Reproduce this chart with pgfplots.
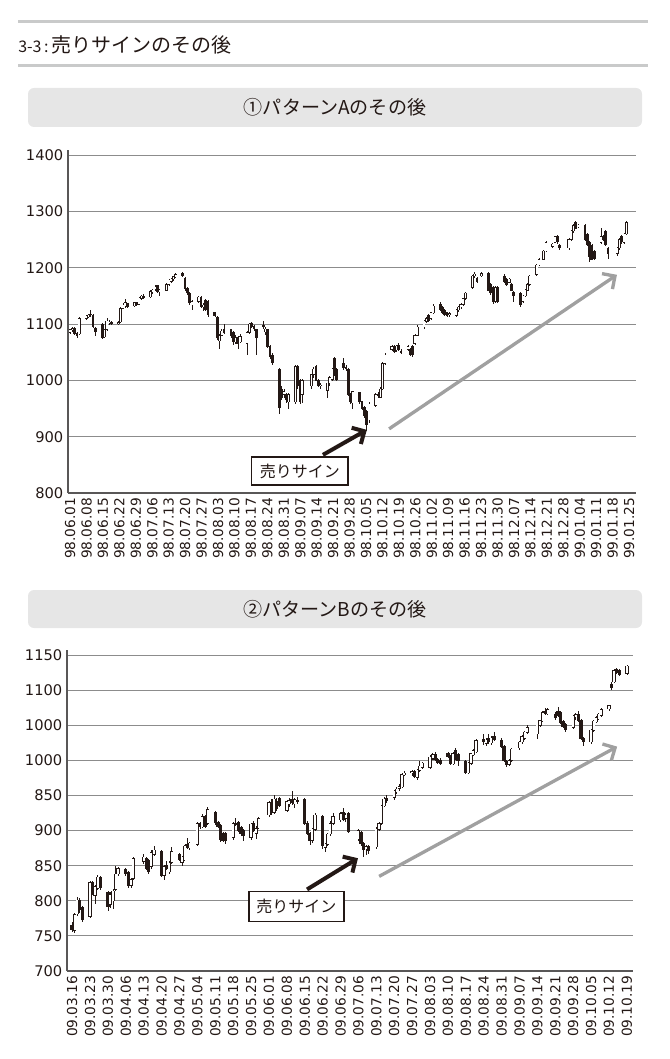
\documentclass[border=0pt]{standalone}
\usepackage{fontspec}
\setmainfont{DejaVu Sans}
\newfontfamily\jp{Noto Sans CJK JP}
\usepackage{pgfplots}
\usepackage{pgfplotstable}
\pgfplotsset{compat=1.18}
\usetikzlibrary{arrows.meta}
\definecolor{axisgray}{HTML}{595757}
\definecolor{gridgray}{HTML}{8C8C8C}
\definecolor{rulegray}{HTML}{C9CACA}
\definecolor{boxgray}{HTML}{E6E6E6}
\definecolor{arrowgray}{HTML}{A0A0A0}
\definecolor{ink}{HTML}{231815}

\pgfplotstableread{
x o h l c
0 1085 1092 1082 1090
1 1090 1095 1086 1092
2 1093 1095 1080 1083
3 1083 1086 1075 1080
4 1082 1112 1080 1110
7 1110 1116 1108 1114
8 1113 1118 1110 1116
9 1118 1125 1112 1117
10 1116 1118 1093 1095
11 1093 1095 1078 1086
14 1100 1102 1073 1076
15 1077 1092 1075 1090
16 1090 1110 1088 1105
17 1102 1108 1098 1104
18 1104 1106 1098 1100
21 1100 1106 1098 1103
22 1104 1130 1102 1128
23 1128 1138 1126 1134
24 1132 1145 1128 1138
25 1136 1138 1128 1131
28 1132 1140 1130 1138
29 1138 1140 1132 1134
30 1135 1148 1133 1146
31 1145 1152 1142 1150
32 1149 1153 1145 1148
35 1148 1160 1146 1158
36 1157 1163 1154 1160
37 1162 1170 1158 1166
38 1168 1170 1155 1158
39 1158 1162 1150 1160
42 1160 1172 1158 1170
43 1170 1180 1167 1178
44 1176 1182 1172 1180
45 1180 1186 1177 1184
46 1184 1190 1182 1188
49 1190 1192 1183 1185
50 1182 1184 1158 1162
51 1164 1166 1152 1155
52 1155 1157 1134 1137
53 1134 1142 1125 1140
56 1140 1150 1138 1148
57 1148 1150 1128 1130
58 1130 1138 1124 1134
59 1142 1144 1124 1126
60 1140 1142 1112 1116
63 1120 1122 1112 1115
64 1112 1114 1072 1075
65 1070 1082 1055 1080
66 1080 1092 1078 1088
67 1090 1100 1083 1085
70 1090 1092 1075 1080
71 1085 1087 1062 1068
72 1068 1080 1065 1076
73 1076 1078 1055 1065
74 1068 1082 1066 1078
77 1065 1088 1045 1085
78 1085 1102 1083 1100
79 1102 1104 1093 1096
80 1096 1099 1088 1092
81 1090 1092 1045 1075
84 1098 1105 1092 1096
85 1086 1094 1080 1091
86 1090 1092 1058 1060
87 1060 1062 1038 1042
88 1045 1048 1028 1032
91 1020 1022 940 952
92 985 990 965 970
93 975 985 968 980
94 976 978 960 965
95 962 978 950 975
98 962 1028 958 1025
99 1025 1028 985 990
100 1000 1002 958 962
101 975 1002 960 1000
105 990 1012 985 1010
106 1010 1024 1005 1020
107 1025 1028 998 1000
108 1000 1002 988 990
109 990 995 984 992
112 982 996 968 995
113 995 1008 990 1005
114 1002 1022 998 1020
115 1040 1042 1008 1010
116 1020 1022 998 1002
119 1030 1040 1018 1022
120 1024 1028 1016 1020
121 1020 1022 972 975
122 975 978 958 962
123 960 982 950 980
126 978 980 958 962
127 962 964 948 950
128 952 954 933 937
129 945 947 910 922
130 930 962 925 958
133 955 977 952 975
134 975 980 968 972
135 970 988 968 985
136 985 1032 983 1030
137 1030 1048 1028 1045
140 1055 1062 1052 1060
141 1060 1062 1048 1050
142 1054 1063 1050 1061
143 1062 1066 1052 1055
144 1052 1056 1046 1050
147 1055 1062 1052 1060
148 1056 1058 1043 1046
149 1060 1062 1042 1045
150 1065 1082 1062 1080
151 1080 1098 1078 1095
154 1095 1107 1092 1105
155 1105 1112 1102 1110
156 1116 1118 1103 1106
157 1110 1122 1108 1120
158 1120 1135 1118 1132
161 1135 1140 1123 1125
162 1130 1132 1118 1120
163 1125 1127 1114 1116
164 1120 1122 1113 1115
165 1116 1121 1113 1119
168 1115 1127 1112 1125
169 1125 1132 1122 1130
170 1130 1137 1127 1135
171 1135 1147 1132 1145
172 1145 1157 1143 1155
175 1165 1187 1162 1185
176 1185 1192 1182 1189
177 1182 1184 1172 1175
179 1185 1192 1183 1190
182 1190 1192 1158 1160
183 1170 1172 1152 1155
184 1165 1167 1135 1140
185 1140 1167 1138 1165
186 1165 1167 1138 1140
189 1185 1188 1173 1175
190 1180 1182 1168 1170
191 1174 1182 1172 1180
192 1170 1172 1158 1160
193 1156 1158 1140 1150
196 1155 1157 1130 1135
197 1140 1152 1138 1150
198 1150 1162 1148 1160
199 1160 1172 1158 1170
200 1170 1187 1168 1185
203 1188 1207 1186 1205
204 1205 1217 1203 1215
206 1215 1232 1213 1230
207 1230 1247 1228 1245
210 1238 1244 1235 1242
211 1245 1257 1243 1255
212 1256 1258 1243 1246
213 1240 1242 1232 1236
217 1235 1252 1232 1250
218 1250 1267 1248 1265
219 1265 1278 1262 1275
220 1280 1283 1268 1270
221 1272 1278 1270 1276
224 1276 1278 1248 1250
225 1260 1262 1238 1240
226 1245 1247 1210 1220
227 1240 1242 1213 1215
228 1230 1232 1213 1216
231 1245 1270 1242 1255
232 1256 1258 1248 1250
233 1265 1267 1238 1240
234 1235 1237 1215 1225
238 1225 1237 1220 1235
239 1235 1252 1232 1250
240 1256 1258 1243 1246
241 1245 1262 1242 1260
242 1260 1283 1258 1280
}\dataA

\pgfplotstableread{
x o h l c
0 765 770 756 759
1 758 782 754 780
2 781 806 779 801
3 801 804 783 787
4 790 793 770 773
7 778 828 775 826
8 826 828 808 810
9 808 822 795 820
10 818 837 815 834
11 834 836 816 819
14 812 814 785 791
15 795 812 790 808
16 800 817 788 814
17 816 850 814 838
18 838 848 836 846
21 845 847 835 838
22 840 842 818 821
23 822 832 818 830
24 832 862 830 860
28 856 866 852 862
29 861 863 844 846
30 858 860 838 842
31 849 872 846 869
32 866 878 864 872
35 870 872 834 836
36 836 851 830 849
37 850 856 844 846
38 841 857 838 854
39 855 876 852 870
42 866 868 856 858
43 855 864 849 862
44 858 880 856 878
45 880 890 874 876
46 875 884 872 882
49 880 912 878 910
50 910 912 902 905
51 905 924 903 920
52 920 922 903 906
53 910 933 908 930
56 926 928 908 911
57 912 914 903 906
58 908 910 884 887
59 896 898 884 886
60 896 898 881 885
63 890 912 887 910
64 910 918 906 908
65 912 914 898 900
66 904 906 893 896
67 900 902 885 893
70 890 911 887 909
71 910 913 898 900
72 896 906 888 903
73 904 920 902 917
77 922 942 920 940
78 940 945 922 926
79 926 950 924 945
80 942 946 928 931
81 946 948 933 936
84 929 944 926 941
85 938 946 934 943
86 944 956 937 940
87 938 946 932 944
88 943 948 938 941
91 945 947 908 910
92 911 913 894 896
93 896 898 880 886
94 886 904 883 902
95 902 925 900 922
98 920 922 874 878
99 876 883 870 881
100 880 897 878 895
101 895 913 893 910
102 910 925 908 920
105 915 926 912 924
106 926 932 914 916
107 917 925 912 922
108 924 926 896 898
112 888 902 885 900
113 898 900 878 881
114 882 884 862 873
115 874 880 865 877
116 878 880 866 872
119 877 905 874 902
120 902 912 900 910
121 910 937 908 935
122 935 948 933 945
123 946 950 940 942
126 947 958 944 956
127 955 962 952 959
128 960 966 957 963
129 962 982 960 980
130 980 985 978 982
133 982 986 978 984
134 984 986 975 977
135 976 988 972 986
136 986 999 984 992
137 990 998 988 996
140 990 1007 988 1005
141 1003 1010 1000 1008
142 1008 1012 999 1001
143 1002 1004 995 997
144 1000 1003 994 996
147 1010 1012 1003 1005
148 1006 1008 993 995
149 995 1012 993 1010
150 1015 1018 1001 1003
151 1008 1010 992 1000
154 999 1001 981 983
155 982 997 980 996
156 996 1011 994 1010
157 1008 1016 1006 1014
158 1012 1030 1010 1028
161 1030 1038 1022 1026
162 1024 1032 1020 1029
163 1031 1038 1024 1026
164 1025 1035 1022 1032
165 1034 1040 1027 1029
168 1028 1032 1017 1020
169 1020 1022 997 999
170 998 1000 990 994
171 994 1002 992 1000
172 1000 1018 998 1016
175 1018 1028 1015 1026
176 1026 1036 1024 1034
177 1031 1042 1029 1040
178 1040 1050 1038 1047
182 1038 1051 1030 1050
183 1050 1058 1048 1057
184 1056 1070 1054 1068
185 1070 1075 1064 1066
186 1066 1074 1064 1072
189 1066 1069 1058 1061
190 1070 1076 1062 1064
191 1068 1070 1052 1054
192 1056 1058 1046 1048
193 1051 1053 1040 1044
196 1047 1065 1044 1063
197 1062 1068 1058 1065
198 1066 1070 1055 1057
199 1057 1059 1029 1031
200 1031 1033 1020 1027
203 1026 1044 1024 1043
204 1043 1058 1041 1056
205 1055 1063 1053 1061
206 1059 1067 1057 1066
207 1064 1074 1062 1072
210 1073 1079 1071 1078
211 1108 1111 1100 1104
212 1112 1130 1110 1128
213 1130 1132 1123 1125
214 1128 1130 1120 1122
217 1124 1136 1122 1134
}\dataB

\pgfplotsset{
  chartbase/.style={
    scale only axis,
    axis x line=bottom, axis y line=left,
    axis line style={-, draw=axisgray, line width=1.3pt},
    ymajorgrids, grid style={draw=gridgray, line width=0.7pt},
    major tick length=0pt,
    x tick label style={rotate=90, anchor=east, font=\fontsize{10.3}{11}\selectfont, text=ink},
    y tick label style={font=\fontsize{11}{11}\selectfont, text=ink},
  },
}

% candle drawing macro: #1 table, #2 body width, #3 inner width, #4 eps
\newcommand{\candles}[4]{%
  \addplot[draw=none, mark=none, forget plot, error bars/.cd, y dir=both, y explicit, error mark=none,
    error bar style={line width=0.5pt, draw=ink, solid}]
    table[x=x, y expr={(\thisrow{h}+\thisrow{l})/2}, y error expr={(\thisrow{h}-\thisrow{l})/2}] {#1};
  \addplot[draw=none, mark=none, forget plot, error bars/.cd, y dir=both, y explicit, error mark=none,
    error bar style={line width=#2, draw=ink, solid}]
    table[x=x, y expr={(\thisrow{o}+\thisrow{c})/2}, y error expr={abs(\thisrow{c}-\thisrow{o})/2+0.5}] {#1};
  \addplot[draw=none, mark=none, forget plot, restrict expr to domain={\thisrow{c}-\thisrow{o}}{2:2000},
    error bars/.cd, y dir=both, y explicit, error mark=none,
    error bar style={line width=#3, draw=white, solid}]
    table[x=x, y expr={(\thisrow{o}+\thisrow{c})/2}, y error expr={(\thisrow{c}-\thisrow{o})/2+0.5-#4}] {#1};
}

\begin{document}
\begin{tikzpicture}
\useasboundingbox (0,0) rectangle (502.5pt,-794.25pt);
% header rules
\fill[rulegray] (13.5pt,-15.375pt) rectangle (486pt,-17.625pt);
\fill[rulegray] (13.5pt,-48.375pt) rectangle (486pt,-50.625pt);
\node[anchor=base west, inner sep=0pt, text=ink] at (13.5pt,-39.4pt)
  {{\jp\fontsize{12}{12}\selectfont 3-3\,:\,}{\jp\fontsize{15}{15}\selectfont 売りサインのその後}};
% title boxes
\fill[boxgray, rounded corners=4.5pt] (21pt,-66pt) rectangle (481.5pt,-95.25pt);
\node[text=ink, inner sep=0pt] at (251.25pt,-80.6pt) {\jp\fontsize{14.3}{15}\selectfont ①パターンAのその後};
\fill[boxgray, rounded corners=4.5pt] (21pt,-442.5pt) rectangle (481.5pt,-471pt);
\node[text=ink, inner sep=0pt] at (251.25pt,-456.9pt) {\jp\fontsize{14.3}{15}\selectfont ②パターンBのその後};

% chart 1
\begin{axis}[chartbase,
  at={(51pt,-369.75pt)}, anchor=south west,
  width=426pt, height=257.25pt,
  xmin=-0.9, xmax=246.2, ymin=800, ymax=1409,
  ytick={800,900,1000,1100,1200,1300,1400},
  yticklabels={800,900,1000,1100,1200,1300,1400},
  xtick={0,7.153,...,243.3},
  xticklabels={98.06.01,98.06.08,98.06.15,98.06.22,98.06.29,98.07.06,98.07.13,98.07.20,98.07.27,98.08.03,98.08.10,98.08.17,98.08.24,98.08.31,98.09.07,98.09.14,98.09.21,98.09.28,98.10.05,98.10.12,98.10.19,98.10.26,98.11.02,98.11.09,98.11.16,98.11.23,98.11.30,98.12.07,98.12.14,98.12.21,98.12.28,99.01.04,99.01.11,99.01.18,99.01.25},
]
\candles{\dataA}{2.1pt}{1.2pt}{0.95}
\draw[arrowgray, line width=2.5pt, -{Straight Barb[length=7pt,width=14pt]}] (138.8,913.9) -- (237.9,1187.4);
\draw[ink, line width=3pt, -{Straight Barb[length=7pt,width=14pt]}] (110,867.7) -- (129.1,912.1);
\node[draw=ink, line width=1.2pt, fill=white, minimum width=72.5pt, minimum height=21.2pt, inner sep=0pt, text=ink]
  at (100,839) {\jp\fontsize{12}{12}\selectfont 売りサイン};
\end{axis}

% chart 2
\begin{axis}[chartbase,
  at={(50.25pt,-728.25pt)}, anchor=south west,
  width=424.5pt, height=240.75pt,
  xmin=-2, xmax=219.4, ymin=700, ymax=1157.2,
  ytick={700,750,800,850,900,950,1000,1050,1100,1150},
  yticklabels={700,750,800,850,900,850,1000,1000,1100,1150},
  xtick={0,7,...,217},
  xticklabels={09.03.16,09.03.23,09.03.30,09.04.06,09.04.13,09.04.20,09.04.27,09.05.04,09.05.11,09.05.18,09.05.25,09.06.01,09.06.08,09.06.15,09.06.22,09.06.29,09.07.06,09.07.13,09.07.20,09.07.27,09.08.03,09.08.10,09.08.17,09.08.24,09.08.31,09.09.07,09.09.14,09.09.21,09.09.28,09.10.05,09.10.12,09.10.19},
]
\candles{\dataB}{2.5pt}{1.5pt}{0.76}
\draw[arrowgray, line width=2.5pt, -{Straight Barb[length=7pt,width=14pt]}] (120.1,834.8) -- (213.2,1019.6);
\draw[ink, line width=3pt, -{Straight Barb[length=7pt,width=14pt]}] (91.9,816.2) -- (111.8,860.6);
\node[draw=ink, line width=1.2pt, fill=white, minimum width=71.25pt, minimum height=22.5pt, inner sep=0pt, text=ink]
  at (87.7,791.8) {\jp\fontsize{12}{12}\selectfont 売りサイン};
\end{axis}
\end{tikzpicture}
\end{document}
